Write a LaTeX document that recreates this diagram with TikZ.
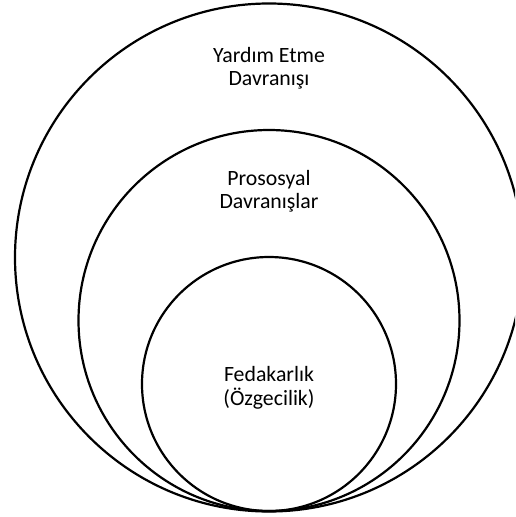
\documentclass[tikz,border=0pt]{standalone}
\usepackage{fontspec}
\setmainfont{Carlito}
\begin{document}
\begin{tikzpicture}[x=1pt,y=-1pt,
  ring/.style={draw=black,line width=2.2pt},
  lbl/.style={align=center,inner sep=0pt,anchor=base,font=\fontsize{21.8}{23.3}\selectfont}]
\useasboundingbox (0,0) rectangle (515,517);
\clip (0,0) rectangle (515,517);
\node[ring,circle,minimum size=508pt,inner sep=0pt] (outer) at (269,257.5) {};
\node[ring,circle,minimum size=381pt,inner sep=0pt] (middle) at (269,320.5) {};
\node[ring,circle,minimum size=254pt,inner sep=0pt] (inner) at (269,384) {};
\node[lbl] (t1) at (269,85.5) {Yardım Etme\\Davranışı};
\node[lbl] (t2) at (269,208.5) {Prososyal\\Davranışlar};
\node[lbl] (t3) at (269,405) {Fedakarlık\\(Özgecilik)};
\end{tikzpicture}
\end{document}
